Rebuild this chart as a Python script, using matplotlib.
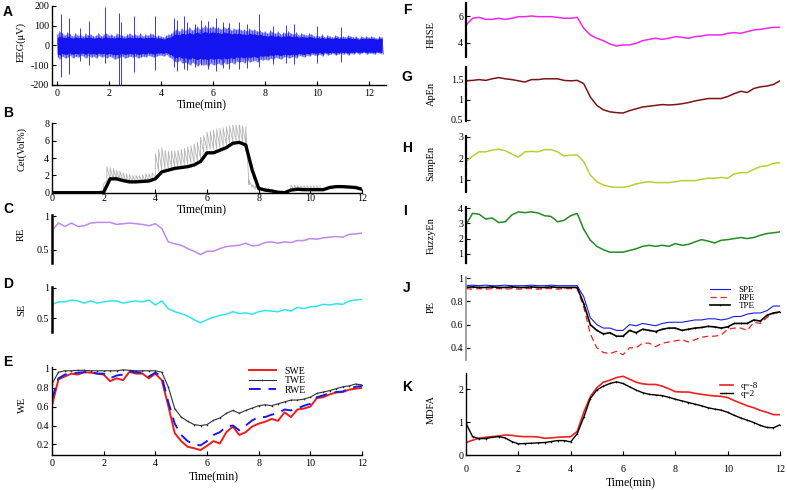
import numpy as np
import matplotlib
matplotlib.use('Agg')
import matplotlib.pyplot as plt

plt.rcParams['font.family'] = ['Liberation Serif', 'DejaVu Serif']
plt.rcParams['xtick.direction'] = 'in'
plt.rcParams['ytick.direction'] = 'in'

# time grid for the index curves (min)
t = np.arange(0, 12.01, 0.25)

# A: EEG envelope (0.1 min steps) + spikes
eeg_t = np.arange(0, 12.51, 0.1)
eeg_hi = [55, 70, 60, 50, 65, 55, 45, 60, 50, 55,
          45, 60, 50, 55, 45, 50, 60, 45, 55, 60,
          50, 55, 45, 60, 55, 50, 45, 55, 60, 50,
          55, 50, 60, 45, 55, 50, 60, 55, 45, 50,
          45, 40, 50, 55, 60, 75, 80, 70, 85, 75,
          80, 90, 75, 85, 95, 80, 90, 100, 85, 90,
          95, 85, 90, 80, 95, 85, 90, 75, 85, 80,
          85, 75, 80, 70, 85, 75, 80, 70, 75, 65,
          70, 60, 75, 65, 60, 70, 55, 65, 60, 70,
          60, 55, 65, 50, 60, 55, 50, 60, 55, 45,
          50, 45, 55, 40, 50, 45, 40, 50, 45, 40,
          45, 40, 50, 45, 40, 45, 35, 45, 40, 45,
          40, 45, 40, 35, 45, 40]
eeg_lo = [-60, -70, -55, -65, -60, -50, -65, -55, -60, -50,
          -55, -65, -50, -60, -55, -65, -50, -60, -55, -65,
          -55, -60, -70, -65, -60, -55, -65, -60, -55, -60,
          -55, -65, -60, -55, -60, -50, -55, -60, -55, -50,
          -50, -55, -45, -60, -65, -80, -85, -75, -90, -85,
          -90, -100, -85, -95, -105, -90, -100, -95, -105, -90,
          -100, -95, -90, -100, -85, -95, -90, -85, -95, -80,
          -85, -80, -90, -75, -85, -80, -75, -85, -70, -75,
          -70, -75, -65, -70, -60, -65, -70, -60, -55, -65,
          -60, -55, -65, -50, -55, -60, -50, -55, -45, -50,
          -50, -45, -55, -40, -50, -45, -40, -50, -45, -40,
          -45, -40, -50, -40, -45, -35, -45, -40, -35, -45,
          -40, -40, -45, -35, -40, -45]
# dense core of the trace
eeg_core_hi = [40, 45, 42, 38, 45, 40, 36, 42, 38, 40,
               36, 42, 38, 40, 36, 38, 42, 36, 40, 42,
               38, 40, 36, 42, 40, 38, 36, 40, 42, 38,
               40, 38, 42, 36, 40, 38, 42, 40, 36, 38,
               36, 32, 38, 40, 45, 55, 58, 52, 62, 56,
               58, 65, 56, 62, 68, 58, 65, 70, 62, 65,
               68, 62, 65, 58, 68, 62, 65, 56, 62, 58,
               62, 56, 58, 52, 62, 56, 58, 52, 56, 50,
               50, 45, 54, 48, 45, 50, 42, 48, 45, 50,
               45, 42, 48, 40, 45, 42, 40, 45, 42, 36,
               40, 36, 42, 34, 40, 36, 34, 40, 36, 34,
               36, 34, 40, 36, 34, 36, 30, 36, 34, 36,
               34, 36, 34, 30, 36, 34]
eeg_core_lo = [-44, -48, -40, -46, -44, -38, -46, -40, -44, -38,
               -40, -46, -38, -44, -40, -46, -38, -44, -40, -46,
               -40, -44, -48, -46, -44, -40, -46, -44, -40, -44,
               -40, -46, -44, -40, -44, -38, -40, -44, -40, -38,
               -38, -40, -35, -44, -48, -58, -62, -56, -65, -62,
               -65, -70, -62, -68, -72, -65, -70, -68, -72, -65,
               -70, -68, -65, -70, -62, -68, -65, -62, -68, -58,
               -62, -58, -65, -56, -62, -58, -56, -62, -52, -56,
               -52, -55, -48, -52, -46, -48, -52, -46, -44, -48,
               -46, -44, -48, -40, -44, -46, -40, -44, -36, -40,
               -40, -36, -44, -34, -40, -36, -34, -40, -36, -34,
               -36, -34, -40, -34, -36, -32, -36, -34, -32, -36,
               -34, -34, -36, -32, -34, -36]
spike_t = [0.14, 0.44, 0.86, 1.21, 1.83, 2.37, 2.45, 2.95, 3.78, 4.49,
           4.6, 4.88, 5.0, 5.3, 5.52, 5.8, 6.1, 6.36, 6.6, 7.0,
           7.3, 7.75, 8.3, 8.8, 9.1, 10.0, 10.9]
spike_hi = [158, 140, 85, 125, 195, 165, 120, 150, 150, 140,
            130, 150, 120, 110, 130, 125, 140, 120, 115, 120,
            110, 160, 100, 105, 110, 100, 95]
spike_lo = [-158, -142, -80, -100, -90, -200, -210, -133, -125, -110,
            -130, -120, -125, -110, -100, -120, -130, -115, -120, -120,
            -115, -110, -95, -90, -95, -90, -85]

# B: effect-site concentration
cet = [0, 0, 0, 0, 0, 0, 0, 0,
       0.05, 1.6, 1.6, 1.4, 1.25, 1.25, 1.3, 1.35,
       1.6, 2.4, 2.6, 2.8, 2.9, 3.0, 3.2, 3.6,
       4.6, 4.6, 4.9, 5.2, 5.7, 5.8, 5.5, 2.6,
       0.5, 0.3, 0.2, 0.05, 0.0, 0.3, 0.4, 0.35,
       0.35, 0.35, 0.35, 0.6, 0.7, 0.7, 0.65, 0.6,
       0.4]
gray_t = np.arange(2.0, 10.376, 0.125)
gray_hi = [1.0, 3.0, 2.9, 2.8, 2.6, 2.5, 2.3, 2.2,
           2.1, 2.0, 2.0, 2.0, 2.1, 2.2, 2.2, 2.3,
           4.5, 5.0, 5.2, 4.9, 4.8, 4.8, 4.8, 4.9,
           5.0, 5.1, 5.3, 5.4, 5.6, 5.8, 6.4, 6.6,
           7.0, 7.1, 7.2, 7.3, 7.4, 7.5, 7.6, 7.7,
           7.8, 7.8, 7.8, 7.7, 7.6, 1.5, 0.9, 0.8,
           0.7, 0.6, 0.6, 0.5, 0.4, 0.3, 0.2, 0.1,
           0.05, 0.1, 0.9, 0.9, 0.8, 0.8, 0.8, 0.8,
           0.8, 0.8, 0.8, 0.8]
gray_lo = [0.1, 1.4, 1.5, 1.5, 1.4, 1.3, 1.2, 1.2,
           1.1, 1.1, 1.1, 1.2, 1.2, 1.2, 1.3, 1.3,
           1.8, 2.5, 2.6, 2.7, 2.8, 2.9, 3.0, 3.0,
           3.1, 3.2, 3.3, 3.4, 3.5, 3.7, 4.0, 4.6,
           4.9, 5.0, 5.0, 5.1, 5.2, 5.3, 5.5, 5.7,
           5.9, 6.0, 6.0, 5.9, 5.7, 0.9, 0.6, 0.4,
           0.3, 0.3, 0.25, 0.2, 0.15, 0.1, 0.05, 0.0,
           0.0, 0.05, 0.3, 0.3, 0.3, 0.3, 0.3, 0.3,
           0.3, 0.3, 0.3, 0.3]

re = [0.79, 0.90, 0.85, 0.90, 0.85, 0.86, 0.90, 0.91,
      0.91, 0.91, 0.88, 0.89, 0.90, 0.89, 0.88, 0.86,
      0.89, 0.82, 0.62, 0.59, 0.57, 0.52, 0.48, 0.43,
      0.48, 0.48, 0.52, 0.55, 0.56, 0.57, 0.60, 0.56,
      0.57, 0.61, 0.62, 0.60, 0.62, 0.61, 0.64, 0.64,
      0.67, 0.66, 0.68, 0.69, 0.70, 0.69, 0.73, 0.74,
      0.75]
se = [0.73, 0.77, 0.77, 0.80, 0.785, 0.75, 0.785, 0.75,
      0.77, 0.785, 0.785, 0.75, 0.77, 0.785, 0.77, 0.80,
      0.72, 0.785, 0.66, 0.61, 0.58, 0.54, 0.48, 0.43,
      0.48, 0.52, 0.55, 0.57, 0.61, 0.58, 0.59, 0.57,
      0.61, 0.63, 0.62, 0.61, 0.645, 0.62, 0.68, 0.66,
      0.69, 0.70, 0.73, 0.72, 0.74, 0.73, 0.785, 0.80,
      0.81]
swe = [0.61, 0.89, 0.92, 0.95, 0.94, 0.965, 0.96, 0.95,
       0.94, 0.87, 0.90, 0.88, 0.97, 0.95, 0.95, 0.90,
       0.95, 0.88, 0.61, 0.32, 0.235, 0.175, 0.16, 0.14,
       0.185, 0.235, 0.21, 0.33, 0.39, 0.30, 0.33, 0.39,
       0.42, 0.44, 0.47, 0.45, 0.54, 0.49, 0.57, 0.58,
       0.60, 0.69, 0.70, 0.73, 0.75, 0.755, 0.78, 0.79,
       0.80]
twe = [0.84, 0.965, 0.98, 0.98, 0.985, 0.985, 0.98, 0.98,
       0.98, 0.98, 0.98, 0.99, 0.985, 0.98, 0.98, 0.98,
       0.98, 0.965, 0.81, 0.58, 0.49, 0.445, 0.41, 0.40,
       0.41, 0.455, 0.48, 0.53, 0.56, 0.53, 0.56, 0.585,
       0.61, 0.62, 0.61, 0.63, 0.65, 0.67, 0.67, 0.68,
       0.70, 0.74, 0.755, 0.77, 0.79, 0.81, 0.82, 0.84,
       0.83]
rwe = [0.68, 0.90, 0.94, 0.95, 0.96, 0.965, 0.965, 0.95,
       0.95, 0.90, 0.93, 0.94, 0.97, 0.965, 0.96, 0.92,
       0.96, 0.92, 0.65, 0.42, 0.30, 0.235, 0.20, 0.19,
       0.235, 0.30, 0.33, 0.39, 0.40, 0.35, 0.40, 0.455,
       0.49, 0.49, 0.515, 0.53, 0.57, 0.56, 0.58, 0.61,
       0.63, 0.70, 0.72, 0.74, 0.755, 0.76, 0.79, 0.81,
       0.82]

hhse = [5.33, 5.83, 5.9, 5.75, 5.75, 5.83, 5.75, 5.83,
        5.95, 5.95, 6.0, 5.95, 5.95, 5.95, 5.9, 5.83,
        5.83, 5.9, 5.08, 4.58, 4.33, 4.15, 3.9, 3.75,
        3.83, 3.83, 3.95, 4.15, 4.25, 4.33, 4.25, 4.33,
        4.45, 4.4, 4.33, 4.45, 4.5, 4.58, 4.58, 4.58,
        4.7, 4.75, 4.7, 4.83, 4.95, 5.0, 5.08, 5.15,
        5.15]
apen = [1.47, 1.48, 1.5, 1.48, 1.52, 1.55, 1.52, 1.5,
        1.47, 1.44, 1.5, 1.5, 1.52, 1.52, 1.52, 1.48,
        1.47, 1.48, 1.4, 1.07, 0.86, 0.75, 0.70, 0.68,
        0.67, 0.73, 0.775, 0.82, 0.84, 0.86, 0.88, 0.87,
        0.88, 0.90, 0.93, 0.97, 1.0, 1.03, 1.03, 1.03,
        1.08, 1.15, 1.21, 1.18, 1.28, 1.32, 1.34, 1.38,
        1.47]
sampen = [1.85, 2.1, 2.3, 2.3, 2.38, 2.42, 2.35, 2.2,
          2.05, 2.3, 2.32, 2.3, 2.4, 2.4, 2.3, 2.1,
          2.15, 2.15, 1.85, 1.23, 0.92, 0.77, 0.69, 0.66,
          0.66, 0.72, 0.82, 0.88, 0.92, 0.88, 0.88, 0.88,
          0.92, 0.97, 0.97, 0.97, 1.03, 1.08, 1.08, 1.12,
          1.08, 1.28, 1.34, 1.34, 1.49, 1.62, 1.65, 1.77,
          1.8]
fuzzyen = [2.9, 3.65, 3.6, 3.28, 3.35, 3.05, 3.1, 3.55,
           3.75, 3.7, 3.75, 3.68, 3.5, 3.45, 3.1, 3.2,
           3.5, 3.65, 2.6, 1.9, 1.49, 1.27, 1.11, 1.11,
           1.11, 1.22, 1.33, 1.49, 1.56, 1.49, 1.56, 1.49,
           1.67, 1.56, 1.62, 1.78, 1.93, 1.84, 1.71, 1.89,
           1.93, 2.0, 2.07, 2.0, 2.07, 2.22, 2.33, 2.38,
           2.44]

spe = [0.935, 0.94, 0.935, 0.94, 0.935, 0.935, 0.94, 0.935,
       0.935, 0.935, 0.94, 0.935, 0.935, 0.94, 0.935, 0.935,
       0.935, 0.935, 0.84, 0.66, 0.60, 0.57, 0.57, 0.55,
       0.55, 0.60, 0.59, 0.61, 0.60, 0.59, 0.61, 0.62,
       0.62, 0.62, 0.63, 0.64, 0.64, 0.65, 0.65, 0.64,
       0.65, 0.67, 0.67, 0.69, 0.70, 0.70, 0.72, 0.76,
       0.76]
rpe = [0.91, 0.905, 0.91, 0.905, 0.91, 0.91, 0.905, 0.91,
       0.905, 0.91, 0.91, 0.905, 0.91, 0.91, 0.905, 0.91,
       0.91, 0.91, 0.75, 0.52, 0.40, 0.36, 0.35, 0.37,
       0.34, 0.40, 0.40, 0.44, 0.44, 0.41, 0.44, 0.45,
       0.46, 0.47, 0.45, 0.47, 0.49, 0.50, 0.50, 0.51,
       0.56, 0.57, 0.57, 0.55, 0.62, 0.61, 0.66, 0.70,
       0.70]
tpe = [0.92, 0.925, 0.92, 0.92, 0.925, 0.92, 0.92, 0.925,
       0.92, 0.92, 0.925, 0.92, 0.92, 0.925, 0.92, 0.92,
       0.92, 0.92, 0.78, 0.60, 0.55, 0.52, 0.53, 0.50,
       0.50, 0.55, 0.53, 0.56, 0.55, 0.54, 0.56, 0.57,
       0.57, 0.55, 0.56, 0.57, 0.575, 0.585, 0.58, 0.57,
       0.58, 0.61, 0.61, 0.61, 0.64, 0.63, 0.68, 0.70,
       0.71]

mdfa_q8 = [0.38, 0.45, 0.51, 0.54, 0.56, 0.58, 0.61, 0.60,
           0.57, 0.56, 0.56, 0.55, 0.51, 0.52, 0.54, 0.55,
           0.56, 0.72, 1.30, 1.78, 2.05, 2.22, 2.28, 2.36,
           2.40, 2.31, 2.22, 2.17, 2.15, 2.15, 2.10, 2.02,
           1.93, 1.92, 1.92, 1.88, 1.85, 1.82, 1.80, 1.79,
           1.75, 1.66, 1.58, 1.50, 1.44, 1.36, 1.30, 1.23,
           1.23]
mdfa_q2 = [0.97, 0.56, 0.50, 0.50, 0.54, 0.56, 0.52, 0.41,
           0.34, 0.35, 0.36, 0.37, 0.38, 0.41, 0.44, 0.44,
           0.40, 0.65, 1.15, 1.72, 1.98, 2.10, 2.18, 2.23,
           2.18, 2.08, 1.98, 1.90, 1.85, 1.83, 1.81, 1.76,
           1.70, 1.65, 1.60, 1.55, 1.50, 1.44, 1.40, 1.37,
           1.30, 1.21, 1.13, 1.06, 0.99, 0.90, 0.84, 0.83,
           0.92]

W, H = 787, 490
fig = plt.figure(figsize=(7.87, 4.90), dpi=100)
fig.patch.set_facecolor('white')


def box(x0, y0, x1, y1):
    return fig.add_axes([x0 / W, 1 - y1 / H, (x1 - x0) / W, (y1 - y0) / H])


def style(ax, xaxis=False, lw=1.0):
    ax.spines['top'].set_visible(False)
    ax.spines['right'].set_visible(False)
    if not xaxis:
        ax.spines['bottom'].set_visible(False)
        ax.set_xticks([])
    ax.spines['left'].set_linewidth(lw)
    ax.spines['bottom'].set_linewidth(1.0)
    ax.tick_params(labelsize=7.2, pad=2, length=3, width=0.8)
    ax.patch.set_visible(False)


def ftext(x, y, s, **kw):
    fig.text(x / W, 1 - y / H, s, ha='center', va='center', **kw)


def letter(x, y, s):
    ftext(x, y, s, fontsize=10, fontweight='bold',
          family=['Liberation Sans', 'DejaVu Sans'])


xt = [0, 2, 4, 6, 8, 10, 12]
blue = '#1414f0'

# A
ax = box(52, 5.7, 386, 85)
ex = np.column_stack([eeg_t, eeg_t + 0.05]).ravel()
ey = np.column_stack([eeg_hi, eeg_lo]).ravel()
ax.fill_between(eeg_t, eeg_lo, eeg_hi, color=blue, lw=0, alpha=0.45)
ax.plot(ex, ey, color=blue, lw=0.45, alpha=0.8)
ax.fill_between(eeg_t, eeg_core_lo, eeg_core_hi, color=blue, lw=0)
ax.vlines(spike_t, spike_lo, spike_hi, color=blue, lw=0.7, alpha=0.85)
ax.set_xlim(-0.2, 12.65)
ax.set_ylim(-200, 200)
ax.set_yticks([-200, -100, 0, 100, 200])
ax.set_yticklabels(['-200', '-100', '0', '100', '200'])
ax.set_xticks(xt)
style(ax, xaxis=True)
ax.tick_params(axis='x', pad=3)

# B
ax = box(52, 123.3, 362, 192.7)
gx = np.repeat(gray_t, 2)
gy = np.column_stack([gray_lo, gray_hi]).ravel()
ax.plot(gx, gy, color='#b4b4b4', lw=0.6)
ax.plot(t, cet, color='black', lw=2.4)
ax.set_xlim(0, 12)
ax.set_ylim(0, 8)
ax.set_yticks([0, 2, 4, 6, 8])
ax.set_xticks(xt)
style(ax, xaxis=True)
ax.tick_params(axis='x', pad=1)

# C
ax = box(52, 215, 362, 262.7)
ax.plot(t, re, color='#c088f0', lw=1.1)
ax.set_xlim(0, 12)
ax.set_ylim(0.31, 1.02)
ax.set_yticks([0.5, 1])
ax.set_yticklabels(['0.5', '1'])
style(ax, lw=1.8)

# D
ax = box(52, 286.5, 362, 331.7)
ax.plot(t, se, color='#30e6ea', lw=1.1)
ax.set_xlim(0, 12)
ax.set_ylim(0.285, 1.02)
ax.set_yticks([0.5, 1])
ax.set_yticklabels(['0.5', '1'])
style(ax, lw=1.8)

# E
ax = box(52, 367, 362, 455)
ax.plot(t, swe, color='#ee1c1c', lw=1.4, label='SWE')
ax.plot(t, twe, color='#303030', lw=0.8, marker='+', ms=1.8, mew=0.4, label='TWE')
ax.plot(t, rwe, color='#1a1ae8', lw=1.4, dashes=(6, 4), label='RWE')
ax.set_xlim(0, 12)
ax.set_ylim(0.088, 1.02)
ax.set_yticks([0.2, 0.4, 0.6, 0.8, 1])
ax.set_yticklabels(['0.2', '0.4', '0.6', '0.8', '1'])
ax.set_xticks(xt)
style(ax, xaxis=True)
ax.tick_params(axis='x', pad=3)
ax.legend(loc='upper left', bbox_to_anchor=(244 / W, 1 - 362 / H),
          bbox_transform=fig.transFigure, frameon=False, fontsize=7,
          handlelength=2.8, handletextpad=0.9, labelspacing=0.05, borderpad=0)

# F-K
rx0, rx1 = 466, 780
ax = box(rx0, 2.7, rx1, 57.3)
ax.plot(t, hhse, color='#ec28ec', lw=1.1)
ax.set_xlim(0, 12)
ax.set_ylim(2.9, 7.0)
ax.set_yticks([4, 6])
style(ax, lw=1.6)

ax = box(rx0, 66.7, rx1, 120.7)
ax.plot(t, apen, color='#7c1414', lw=1.1)
ax.set_xlim(0, 12)
ax.set_ylim(0.48, 1.82)
ax.set_yticks([0.5, 1, 1.5])
ax.set_yticklabels(['0.5', '1', '1.5'])
style(ax, lw=1.6)

ax = box(rx0, 136, rx1, 191.7)
ax.plot(t, sampen, color='#b4d232', lw=1.1)
ax.set_xlim(0, 12)
ax.set_ylim(0.46, 3.03)
ax.set_yticks([1, 2, 3])
style(ax, lw=1.6)

ax = box(rx0, 207.3, rx1, 263.3)
ax.plot(t, fuzzyen, color='#228c22', lw=1.1)
ax.set_xlim(0, 12)
ax.set_ylim(0.38, 4.05)
ax.set_yticks([1, 2, 3, 4])
style(ax, lw=1.6)

ax = box(rx0, 277, rx1, 360)
ax.plot(t, spe, color='#1a1ae8', lw=0.8, label='SPE')
ax.plot(t, rpe, color='#ee2020', lw=0.9, dashes=(5, 3), label='RPE')
ax.plot(t, tpe, color='black', lw=1.2, marker='+', ms=1.8, mew=0.4, label='TPE')
ax.set_xlim(0, 12)
ax.set_ylim(0.295, 1.01)
ax.set_yticks([0.4, 0.6, 0.8, 1])
ax.set_yticklabels(['0.4', '0.6', '0.8', '1'])
style(ax, lw=1.2)
ax.spines['left'].set_color('#909090')
ax.legend(loc='upper left', bbox_to_anchor=(705 / W, 1 - 281 / H),
          bbox_transform=fig.transFigure, frameon=False, fontsize=6.5,
          handlelength=2.3, handletextpad=0.9, labelspacing=0.0, borderpad=0)

ax = box(rx0, 373, rx1, 455)
ax.plot(t, mdfa_q8, color='#ee2020', lw=1.2, label='q=-8')
ax.plot(t, mdfa_q2, color='black', lw=1.0, marker='+', ms=1.8, mew=0.4, label='q=2')
ax.set_xlim(0, 12)
ax.set_ylim(0, 2.5)
ax.set_yticks([0, 1, 2])
ax.set_xticks(xt)
style(ax, xaxis=True)
ax.tick_params(axis='x', pad=7)
ax.legend(loc='upper left', bbox_to_anchor=(715 / W, 1 - 377 / H),
          bbox_transform=fig.transFigure, frameon=False, fontsize=6.5,
          handlelength=1.5, handletextpad=0.8, labelspacing=0.0, borderpad=0)

# axis labels
for x, y, s in [(202, 105, 'Time(min)'), (202, 210, 'Time(min)'),
                (214, 477, 'Time(min)'), (631, 483, 'Time(min)')]:
    ftext(x, y, s, fontsize=8.5)
for x, y, s in [(21, 42, 'EEG(\u03bcV)'), (22, 149, 'Cet(Vol%)'), (21, 234, 'RE'),
                (22, 310, 'SE'), (22, 405, 'WE'), (431, 35, 'HHSE'),
                (431, 94, 'ApEn'), (431, 163, 'SampEn'), (431, 236, 'FuzzyEn'),
                (431, 307, 'PE'), (431, 409, 'MDFA')]:
    ftext(x, y, s, fontsize=7.5, rotation=90)

for x, y, s in [(8, 12, 'A'), (8, 113, 'B'), (8, 209, 'C'), (8, 284, 'D'),
                (8, 362, 'E'), (407, 10, 'F'), (407, 77, 'G'), (407, 148, 'H'),
                (405, 211, 'I'), (407, 288, 'J'), (407, 387, 'K')]:
    letter(x, y, s)

fig.savefig('out.png', dpi=100)
